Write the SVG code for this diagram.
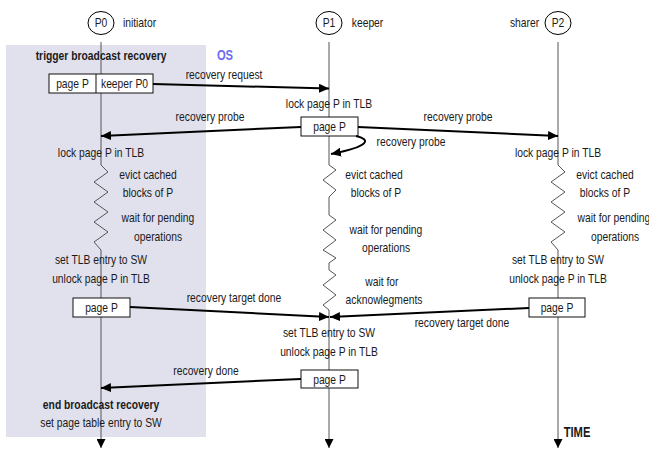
<svg xmlns="http://www.w3.org/2000/svg" width="649" height="458" viewBox="0 0 649 458">
  <defs>
    <style>
      .t { font-family: "Liberation Sans", Arial, Helvetica, sans-serif; font-size: 12.3px; fill: #1a1a1a;
           transform-box: fill-box; transform-origin: center; transform: scaleX(0.84); }
      .c { text-anchor: middle; }
      .b { font-weight: bold; }
      .big { font-size: 14px; transform: scaleX(0.8); }
      .life { stroke: #555; stroke-width: 1; fill: none; }
      .box { fill: #fff; stroke: #111; stroke-width: 1; }
      .msg { stroke: #000; stroke-width: 2; fill: none; }
      .head { fill: #fff; stroke: #000; stroke-width: 1; }
    </style>
    <marker id="arrow" markerUnits="userSpaceOnUse" markerWidth="11" markerHeight="9" refX="10" refY="4.5" orient="auto">
      <path d="M0,0 L10,4.5 L0,9 z" fill="#000"/>
    </marker>
    <marker id="tip" markerUnits="userSpaceOnUse" markerWidth="11" markerHeight="9" refX="9" refY="4.5" orient="auto">
      <path d="M0,0 L9,4.5 L0,9 z" fill="#000"/>
    </marker>
  </defs>

  <!-- OS region shading -->
  <g id="os-region">
    <rect x="6" y="45" width="200" height="392" fill="#e1e1ed"/>
    <text class="t b c big" x="225" y="60" style="fill:#6c6cf0">OS</text>
  </g>

  <!-- process P0: initiator -->
  <g id="p0">
    <ellipse class="head" cx="101" cy="23" rx="13" ry="11.5"/>
    <text class="t c" x="101" y="27.5">P0</text>
    <text class="t c" x="139.5" y="27.5">initiator</text>
    <path class="life" d="M101,42 V165 L108,172 L94,182 L108,192 L94,202 L108,212 L94,222 L108,232 L94,242 L101,250 V448" marker-end="url(#tip)"/>
  </g>

  <!-- process P1: keeper -->
  <g id="p1">
    <ellipse class="head" cx="329" cy="23" rx="13" ry="11.5"/>
    <text class="t c" x="329" y="27.5">P1</text>
    <text class="t c" x="367.5" y="27.5">keeper</text>
    <path class="life" d="M329,42 V165 L336,170 L323,180 L336,190 L329,197 V215 L336,220 L323,230 L336,240 L323,250 L336,258 L329,263 V270 L336,275 L323,285 L336,295 L323,305 L329,310 V448" marker-end="url(#tip)"/>
  </g>

  <!-- process P2: sharer -->
  <g id="p2">
    <ellipse class="head" cx="558" cy="23" rx="13" ry="11.5"/>
    <text class="t c" x="558" y="27.5">P2</text>
    <text class="t c" x="524.5" y="27.5">sharer</text>
    <path class="life" d="M558,42 V165 L565,172 L551,182 L565,192 L551,202 L565,212 L551,222 L565,232 L551,242 L558,250 V448" marker-end="url(#tip)"/>
    <text class="t b c big" x="577" y="437">TIME</text>
  </g>

  <!-- P0 steps -->
  <g id="p0-start">
    <text class="t b c" x="101" y="60">trigger broadcast recovery</text>
    <rect class="box" x="49" y="74" width="104" height="19"/>
    <line x1="96" y1="74" x2="96" y2="93" stroke="#111" stroke-width="1"/>
    <text class="t c" x="72.5" y="88">page P</text>
    <text class="t c" x="124.5" y="88">keeper P0</text>
  </g>
  <g id="p0-work">
    <text class="t c" x="101" y="157">lock page P in TLB</text>
    <text class="t c" x="148" y="179">evict cached</text>
    <text class="t c" x="148" y="197">blocks of P</text>
    <text class="t c" x="158" y="222">wait for pending</text>
    <text class="t c" x="158" y="241">operations</text>
    <text class="t c" x="101" y="264">set TLB entry to SW</text>
    <text class="t c" x="101" y="283">unlock page P in TLB</text>
  </g>
  <g id="p0-done">
    <rect class="box" x="73" y="298" width="57" height="19"/>
    <text class="t c" x="101.5" y="312">page P</text>
  </g>
  <g id="p0-end">
    <text class="t b c" x="101" y="409">end broadcast recovery</text>
    <text class="t c" x="101" y="427">set page table entry to SW</text>
  </g>

  <!-- P1 steps -->
  <g id="p1-lock">
    <text class="t c" x="329" y="108">lock page P in TLB</text>
    <rect class="box" x="301" y="117" width="57" height="19"/>
    <text class="t c" x="329.5" y="131">page P</text>
  </g>
  <g id="p1-work">
    <text class="t c" x="374" y="179">evict cached</text>
    <text class="t c" x="376" y="197">blocks of P</text>
    <text class="t c" x="386" y="234">wait for pending</text>
    <text class="t c" x="386" y="252">operations</text>
    <text class="t c" x="382" y="286">wait for</text>
    <text class="t c" x="384" y="304">acknowlegments</text>
  </g>
  <g id="p1-unlock">
    <text class="t c" x="329" y="337">set TLB entry to SW</text>
    <text class="t c" x="329" y="356">unlock page P in TLB</text>
    <rect class="box" x="301" y="370" width="57" height="18"/>
    <text class="t c" x="329.5" y="384">page P</text>
  </g>

  <!-- P2 steps -->
  <g id="p2-work">
    <text class="t c" x="558" y="157">lock page P in TLB</text>
    <text class="t c" x="605" y="179">evict cached</text>
    <text class="t c" x="605" y="197">blocks of P</text>
    <text class="t c" x="614" y="222">wait for pending</text>
    <text class="t c" x="615" y="241">operations</text>
    <text class="t c" x="558" y="264">set TLB entry to SW</text>
    <text class="t c" x="558" y="283">unlock page P in TLB</text>
  </g>
  <g id="p2-done">
    <rect class="box" x="529" y="298" width="56" height="19"/>
    <text class="t c" x="557" y="312">page P</text>
  </g>

  <!-- messages -->
  <g id="connectors">
    <path class="msg" d="M153,84 L329,88.5" marker-end="url(#arrow)"/>
    <text class="t c" x="224" y="79">recovery request</text>

    <path class="msg" d="M301,127 L101,136" marker-end="url(#arrow)"/>
    <text class="t c" x="210" y="121">recovery probe</text>

    <path class="msg" d="M358,127 L558,136" marker-end="url(#arrow)"/>
    <text class="t c" x="458" y="121">recovery probe</text>

    <path class="msg" d="M356,136 C370,139 372,146 331,154" marker-end="url(#arrow)"/>
    <text class="t c" x="411" y="146">recovery probe</text>

    <path class="msg" d="M130,307 L329,317" marker-end="url(#arrow)"/>
    <text class="t c" x="234" y="302">recovery target done</text>

    <path class="msg" d="M529,308 L330,317" marker-end="url(#arrow)"/>
    <text class="t c" x="462" y="327">recovery target done</text>

    <path class="msg" d="M301,379 L101,388" marker-end="url(#arrow)"/>
    <text class="t c" x="206" y="375">recovery done</text>
  </g>
</svg>
